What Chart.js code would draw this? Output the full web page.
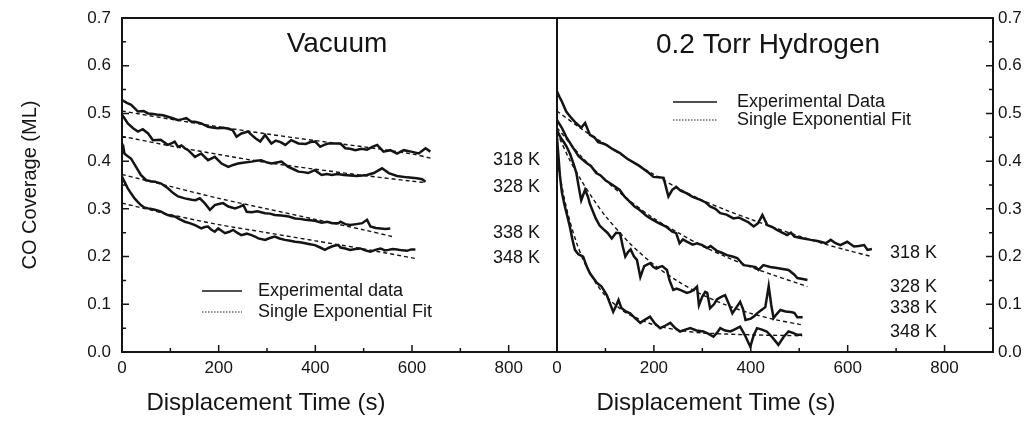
<!DOCTYPE html>
<html>
<head>
<meta charset="utf-8">
<script src="https://cdn.jsdelivr.net/npm/chart.js@4.4.1/dist/chart.umd.min.js"></script>
<style>
  html, body { margin: 0; padding: 0; background: #fff; }
  #wrap { position: relative; width: 1031px; height: 425px; }
  #wrap canvas { position: absolute; left: 0; top: 0; }
</style>
</head>
<body>
<div id="wrap">
  <canvas id="chartVacuum" width="1031" height="425"></canvas>
  <canvas id="chartHydrogen" width="1031" height="425"></canvas>
</div>
<script>
// axis ticks
const xTicks = [0, 200, 400, 600, 800];
const yTicks = [0, 0.1, 0.2, 0.3, 0.4, 0.5, 0.6, 0.7];
const tempLabels = ["318 K", "328 K", "338 K", "348 K"];

// ---- Vacuum panel ----
const vac318Time = [0, 10, 19, 33, 45, 54, 65, 75, 85, 95, 105, 116, 125, 133, 143, 153, 164, 178, 190, 199, 210, 220, 229, 237, 247, 261, 268, 276, 286, 296, 309, 318, 328, 338, 350, 365, 380, 390, 400, 410, 418, 427, 440, 452, 462, 472, 483, 495, 507, 518, 528, 541, 555, 569, 583, 598, 614, 620, 628, 638];
const vac318Cov = [0.528, 0.522, 0.518, 0.504, 0.505, 0.5, 0.499, 0.497, 0.496, 0.493, 0.49, 0.486, 0.488, 0.49, 0.483, 0.482, 0.479, 0.472, 0.47, 0.469, 0.47, 0.468, 0.465, 0.451, 0.458, 0.462, 0.455, 0.448, 0.441, 0.455, 0.437, 0.443, 0.44, 0.434, 0.444, 0.437, 0.436, 0.44, 0.441, 0.43, 0.434, 0.437, 0.437, 0.437, 0.427, 0.426, 0.423, 0.426, 0.424, 0.43, 0.434, 0.42, 0.423, 0.416, 0.423, 0.42, 0.416, 0.421, 0.427, 0.42];
const vacFit318Time = [0, 100, 200, 300, 400, 500, 600, 640];
const vacFit318Cov = [0.505, 0.488, 0.472, 0.457, 0.443, 0.43, 0.415, 0.406];

const vac328Time = [0, 5, 12, 23, 33, 43, 54, 64, 80, 95, 102, 109, 116, 123, 130, 137, 151, 164, 178, 192, 206, 220, 230, 240, 254, 268, 278, 288, 298, 309, 320, 330, 344, 355, 365, 375, 385, 399, 413, 424, 434, 446, 459, 472, 486, 497, 507, 521, 538, 552, 569, 590, 610, 621, 628];
const vac328Cov = [0.497, 0.49, 0.479, 0.469, 0.462, 0.467, 0.458, 0.444, 0.445, 0.434, 0.437, 0.441, 0.43, 0.433, 0.427, 0.423, 0.409, 0.416, 0.402, 0.409, 0.395, 0.388, 0.392, 0.395, 0.397, 0.399, 0.401, 0.402, 0.398, 0.395, 0.397, 0.399, 0.388, 0.383, 0.378, 0.377, 0.375, 0.381, 0.371, 0.373, 0.371, 0.373, 0.371, 0.37, 0.369, 0.37, 0.371, 0.375, 0.385, 0.375, 0.369, 0.366, 0.364, 0.362, 0.357];
const vacFit328Time = [0, 100, 200, 300, 400, 500, 600, 628];
const vacFit328Cov = [0.452, 0.432, 0.414, 0.397, 0.383, 0.37, 0.358, 0.355];

const vac338Time = [0, 3, 5, 12, 19, 29, 39, 50, 60, 68, 81, 95, 106, 116, 130, 144, 152, 161, 171, 182, 192, 200, 209, 220, 234, 243, 251, 258, 268, 280, 296, 306, 316, 330, 345, 358, 368, 379, 389, 399, 413, 425, 435, 448, 452, 462, 472, 485, 497, 507, 514, 525, 535, 545, 555];
const vac338Cov = [0.42, 0.428, 0.416, 0.41, 0.405, 0.388, 0.371, 0.36, 0.358, 0.357, 0.353, 0.343, 0.333, 0.326, 0.322, 0.319, 0.318, 0.322, 0.312, 0.298, 0.308, 0.31, 0.312, 0.305, 0.301, 0.304, 0.308, 0.294, 0.293, 0.295, 0.291, 0.29, 0.287, 0.286, 0.284, 0.28, 0.279, 0.277, 0.276, 0.275, 0.271, 0.273, 0.27, 0.27, 0.273, 0.268, 0.266, 0.268, 0.27, 0.277, 0.263, 0.26, 0.259, 0.258, 0.259];
const vacFit338Time = [0, 100, 200, 300, 400, 500, 559];
const vacFit338Cov = [0.372, 0.347, 0.322, 0.3, 0.278, 0.256, 0.242];

const vac348Time = [0, 6, 12, 19, 26, 33, 39, 46, 54, 61, 68, 75, 81, 88, 95, 102, 109, 120, 130, 140, 151, 164, 171, 178, 185, 192, 199, 206, 213, 222, 230, 238, 247, 258, 268, 275, 282, 296, 306, 316, 326, 337, 348, 358, 368, 379, 389, 399, 410, 420, 427, 434, 441, 448, 452, 462, 472, 483, 493, 503, 514, 524, 535, 544, 551, 560, 569, 580, 590, 598, 607];
const vac348Cov = [0.367, 0.355, 0.343, 0.332, 0.322, 0.314, 0.308, 0.303, 0.301, 0.3, 0.298, 0.296, 0.294, 0.29, 0.287, 0.285, 0.284, 0.278, 0.273, 0.27, 0.266, 0.259, 0.262, 0.263, 0.256, 0.252, 0.259, 0.254, 0.249, 0.252, 0.256, 0.25, 0.245, 0.248, 0.245, 0.242, 0.238, 0.235, 0.239, 0.242, 0.238, 0.235, 0.233, 0.231, 0.23, 0.228, 0.226, 0.224, 0.219, 0.214, 0.218, 0.221, 0.223, 0.224, 0.219, 0.217, 0.214, 0.216, 0.217, 0.213, 0.21, 0.214, 0.217, 0.213, 0.214, 0.216, 0.215, 0.213, 0.212, 0.215, 0.215];
const vacFit348Time = [0, 100, 200, 300, 400, 500, 607];
const vacFit348Cov = [0.312, 0.288, 0.267, 0.25, 0.233, 0.216, 0.196];

// ---- 0.2 Torr hydrogen panel ----
const h318Time = [0, 5, 10, 19, 30, 39, 50, 58, 68, 77, 85, 95, 102, 115, 130, 145, 157, 170, 182, 190, 199, 210, 220, 230, 238, 246, 255, 267, 280, 296, 306, 316, 327, 337, 350, 364, 375, 385, 395, 406, 415, 424, 434, 444, 454, 465, 475, 483, 490, 503, 515, 524, 535, 544, 555, 565, 575, 585, 599, 613, 623, 634, 641, 650];
const h318Cov = [0.546, 0.535, 0.525, 0.504, 0.49, 0.48, 0.47, 0.48, 0.455, 0.45, 0.44, 0.437, 0.434, 0.425, 0.417, 0.405, 0.398, 0.39, 0.381, 0.375, 0.367, 0.366, 0.365, 0.326, 0.34, 0.346, 0.338, 0.333, 0.325, 0.319, 0.314, 0.305, 0.3, 0.291, 0.288, 0.28, 0.282, 0.277, 0.272, 0.263, 0.27, 0.287, 0.266, 0.262, 0.256, 0.25, 0.245, 0.25, 0.242, 0.239, 0.237, 0.235, 0.233, 0.231, 0.228, 0.235, 0.228, 0.224, 0.231, 0.221, 0.222, 0.224, 0.214, 0.216];
const hFit318Time = [0, 50, 100, 150, 200, 250, 300, 350, 400, 450, 500, 550, 600, 650];
const hFit318Cov = [0.505, 0.468, 0.435, 0.402, 0.372, 0.343, 0.318, 0.297, 0.278, 0.26, 0.243, 0.227, 0.213, 0.2];

const h328Time = [0, 10, 19, 32, 45, 61, 70, 81, 90, 100, 115, 129, 140, 150, 160, 170, 185, 198, 210, 225, 238, 246, 253, 260, 267, 280, 289, 300, 310, 317, 330, 340, 351, 362, 372, 385, 400, 410, 416, 426, 440, 454, 466, 478, 490, 496, 507, 517];
const h328Cov = [0.486, 0.47, 0.451, 0.43, 0.41, 0.396, 0.39, 0.375, 0.37, 0.36, 0.35, 0.34, 0.325, 0.315, 0.305, 0.298, 0.285, 0.277, 0.27, 0.263, 0.252, 0.249, 0.228, 0.236, 0.232, 0.225, 0.228, 0.224, 0.218, 0.222, 0.212, 0.208, 0.203, 0.2, 0.197, 0.182, 0.18, 0.178, 0.172, 0.182, 0.178, 0.176, 0.174, 0.172, 0.162, 0.155, 0.153, 0.151];
const hFit328Time = [0, 50, 100, 150, 200, 250, 300, 350, 400, 450, 500, 517];
const hFit328Cov = [0.47, 0.41, 0.36, 0.317, 0.28, 0.25, 0.222, 0.199, 0.178, 0.16, 0.143, 0.137];

const h338Time = [0, 7, 14, 20, 27, 34, 40, 45, 50, 58, 64, 68, 74, 80, 88, 95, 104, 113, 122, 130, 136, 141, 147, 152, 159, 165, 172, 180, 186, 192, 199, 205, 211, 217, 222, 227, 232, 240, 247, 254, 261, 268, 275, 282, 289, 293, 300, 306, 310, 316, 324, 330, 338, 347, 355, 362, 370, 378, 384, 389, 400, 407, 413, 422, 430, 437, 442, 447, 454, 461, 472, 482, 490, 496, 507];
const h338Cov = [0.465, 0.45, 0.44, 0.43, 0.415, 0.395, 0.375, 0.345, 0.318, 0.34, 0.325, 0.31, 0.295, 0.28, 0.265, 0.258, 0.25, 0.238, 0.25, 0.249, 0.22, 0.2, 0.21, 0.215, 0.2, 0.193, 0.157, 0.18, 0.183, 0.186, 0.178, 0.175, 0.178, 0.18, 0.176, 0.172, 0.151, 0.13, 0.133, 0.13, 0.127, 0.124, 0.126, 0.13, 0.137, 0.098, 0.116, 0.126, 0.124, 0.092, 0.1, 0.11, 0.115, 0.119, 0.1, 0.081, 0.093, 0.105, 0.09, 0.067, 0.07, 0.075, 0.081, 0.088, 0.094, 0.138, 0.1, 0.071, 0.08, 0.088, 0.085, 0.084, 0.082, 0.073, 0.073];
const hFit338Time = [0, 25, 50, 75, 100, 150, 200, 250, 300, 350, 400, 450, 500, 507];
const hFit338Cov = [0.46, 0.405, 0.36, 0.32, 0.285, 0.228, 0.183, 0.148, 0.12, 0.098, 0.081, 0.068, 0.058, 0.057];

const h348Time = [0, 3, 6, 10, 15, 20, 26, 32, 37, 44, 54, 61, 68, 75, 82, 92, 103, 110, 116, 122, 127, 133, 142, 151, 160, 172, 182, 192, 202, 213, 223, 234, 244, 254, 265, 275, 288, 302, 313, 323, 330, 337, 347, 358, 368, 378, 388, 399, 406, 413, 423, 433, 445, 457, 468, 478, 487, 496, 506];
const h348Cov = [0.45, 0.41, 0.37, 0.335, 0.31, 0.29, 0.265, 0.235, 0.214, 0.205, 0.2, 0.18, 0.165, 0.155, 0.145, 0.137, 0.119, 0.1, 0.084, 0.097, 0.109, 0.092, 0.085, 0.081, 0.072, 0.061, 0.068, 0.074, 0.06, 0.05, 0.055, 0.061, 0.05, 0.043, 0.047, 0.05, 0.045, 0.043, 0.038, 0.032, 0.04, 0.05, 0.045, 0.043, 0.048, 0.053, 0.035, 0.011, 0.035, 0.05, 0.047, 0.043, 0.03, 0.015, 0.032, 0.043, 0.04, 0.036, 0.036];
const hFit348Time = [0, 20, 40, 60, 80, 100, 125, 150, 200, 250, 300, 400, 506];
const hFit348Cov = [0.4, 0.3, 0.23, 0.18, 0.145, 0.118, 0.095, 0.078, 0.057, 0.046, 0.04, 0.036, 0.034];

const ink = "#141414";
const fontFamily = "'Liberation Sans', Arial, sans-serif";
Chart.defaults.font.family = fontFamily;
Chart.defaults.color = ink;

function pts(times, cov) {
    return times.map((t, i) => ({ x: t, y: cov[i] }));
}

function dataSet(times, cov) {
    return { data: pts(times, cov), borderColor: ink, borderWidth: 2.5, pointRadius: 0, tension: 0, fill: false };
}

function fitSet(times, cov) {
    return { data: pts(times, cov), borderColor: ink, borderWidth: 1.4, borderDash: [4, 3], pointRadius: 0, tension: 0.3, fill: false };
}

// frame, inward ticks, panel titles, temperature and legend text
const panelDeco = {
    id: "panelDeco",
    afterDatasetsDraw(chart, args, opts) {
        const ctx = chart.ctx;
        const a = chart.chartArea;
        const xs = chart.scales.x;
        const ys = chart.scales.y;
        ctx.save();
        ctx.strokeStyle = ink;
        ctx.fillStyle = ink;

        ctx.lineWidth = 2;
        ctx.strokeRect(a.left, a.top, a.right - a.left, a.bottom - a.top);

        ctx.lineWidth = 1.5;
        ctx.beginPath();
        for (let v = 0; v <= 900; v += 100) {
            const px = xs.getPixelForValue(v);
            const len = v % 200 === 0 ? 7 : 4;
            ctx.moveTo(px, a.bottom);
            ctx.lineTo(px, a.bottom - len);
        }
        const yEdge = opts.ySide === "left" ? a.left : a.right;
        const dir = opts.ySide === "left" ? 1 : -1;
        for (let i = 0; i < yTicks.length; i++) {
            const py = ys.getPixelForValue(yTicks[i]);
            ctx.moveTo(yEdge, py);
            ctx.lineTo(yEdge + dir * 7, py);
            if (i < yTicks.length - 1) {
                const pm = ys.getPixelForValue((yTicks[i] + yTicks[i + 1]) / 2);
                ctx.moveTo(yEdge, pm);
                ctx.lineTo(yEdge + dir * 4, pm);
            }
        }
        ctx.stroke();

        ctx.textBaseline = "middle";
        ctx.textAlign = "center";
        ctx.font = "28px " + fontFamily;
        ctx.fillText(opts.title, opts.titleX, opts.titleY);

        ctx.font = "24px " + fontFamily;
        ctx.fillText("Displacement Time (s)", opts.axisTitleX, 403);

        if (opts.yTitle) {
            ctx.save();
            ctx.translate(30, (a.top + a.bottom) / 2);
            ctx.rotate(-Math.PI / 2);
            ctx.font = "20px " + fontFamily;
            ctx.fillText(opts.yTitle, 0, 0);
            ctx.restore();
        }

        ctx.textAlign = "left";
        ctx.font = "18px " + fontFamily;
        tempLabels.forEach((t, i) => ctx.fillText(t, opts.tempX, opts.tempY[i]));

        // legend
        const lg = opts.legend;
        ctx.fillText(lg.texts[0], lg.textX, lg.y[0]);
        ctx.fillText(lg.texts[1], lg.textX, lg.y[1]);
        ctx.lineWidth = 1.6;
        ctx.beginPath();
        ctx.moveTo(lg.x0, lg.y[0]);
        ctx.lineTo(lg.x1, lg.y[0]);
        ctx.stroke();
        ctx.lineWidth = 1;
        ctx.setLineDash([1.5, 1.5]);
        ctx.beginPath();
        ctx.moveTo(lg.x0, lg.y[1]);
        ctx.lineTo(lg.x1, lg.y[1]);
        ctx.stroke();
        ctx.restore();
    }
};

function makePanel(canvasId, cfg) {
    return new Chart(document.getElementById(canvasId), {
        type: "line",
        data: { datasets: cfg.datasets },
        options: {
            responsive: false,
            animation: false,
            layout: { padding: cfg.padding },
            plugins: {
                legend: { display: false },
                tooltip: { enabled: false },
                panelDeco: cfg.deco
            },
            scales: {
                x: {
                    type: "linear",
                    min: 0,
                    max: 900,
                    grid: { display: false, drawTicks: false },
                    border: { display: false },
                    ticks: { padding: 6, autoSkip: false, maxRotation: 0, font: { size: 17 }, color: ink },
                    afterBuildTicks: s => { s.ticks = xTicks.map(v => ({ value: v })); },
                    afterFit: s => { s.height = 73; }
                },
                y: {
                    type: "linear",
                    position: cfg.yPos,
                    min: 0,
                    max: 0.7,
                    grid: { display: false, drawTicks: false },
                    border: { display: false },
                    ticks: { padding: cfg.yPad, font: { size: 17 }, color: ink, callback: v => v.toFixed(1) },
                    afterBuildTicks: s => { s.ticks = yTicks.map(v => ({ value: v })); },
                    afterFit: s => {
                        s.width = cfg.yWidth;
                        // keep the label padding from pushing the plot area down
                        s.paddingTop = 0;
                        s.paddingBottom = 0;
                    }
                }
            }
        },
        plugins: [panelDeco]
    });
}

makePanel("chartVacuum", {
    padding: { left: 0, top: 18, right: 474, bottom: 0 },
    yPos: "left",
    yPad: 11,
    yWidth: 122,
    datasets: [
        dataSet(vac318Time, vac318Cov), fitSet(vacFit318Time, vacFit318Cov),
        dataSet(vac328Time, vac328Cov), fitSet(vacFit328Time, vacFit328Cov),
        dataSet(vac338Time, vac338Cov), fitSet(vacFit338Time, vacFit338Cov),
        dataSet(vac348Time, vac348Cov), fitSet(vacFit348Time, vacFit348Cov)
    ],
    deco: {
        ySide: "left",
        title: "Vacuum",
        titleX: 337,
        titleY: 44,
        axisTitleX: 266,
        yTitle: "CO Coverage (ML)",
        tempX: 493,
        tempY: [160, 187, 233, 258],
        legend: { x0: 202, x1: 242, textX: 258, y: [291, 312], texts: ["Experimental data", "Single Exponential Fit"] }
    }
});

makePanel("chartHydrogen", {
    padding: { left: 557, top: 18, right: 0, bottom: 0 },
    yPos: "right",
    yPad: 5,
    yWidth: 38,
    datasets: [
        dataSet(h318Time, h318Cov), fitSet(hFit318Time, hFit318Cov),
        dataSet(h328Time, h328Cov), fitSet(hFit328Time, hFit328Cov),
        dataSet(h338Time, h338Cov), fitSet(hFit338Time, hFit338Cov),
        dataSet(h348Time, h348Cov), fitSet(hFit348Time, hFit348Cov)
    ],
    deco: {
        ySide: "right",
        title: "0.2 Torr Hydrogen",
        titleX: 768,
        titleY: 45,
        axisTitleX: 716,
        tempX: 890,
        tempY: [253, 287, 308, 332],
        legend: { x0: 673, x1: 717, textX: 737, y: [102, 120], texts: ["Experimental Data", "Single Exponential Fit"] }
    }
});
</script>
</body>
</html>
